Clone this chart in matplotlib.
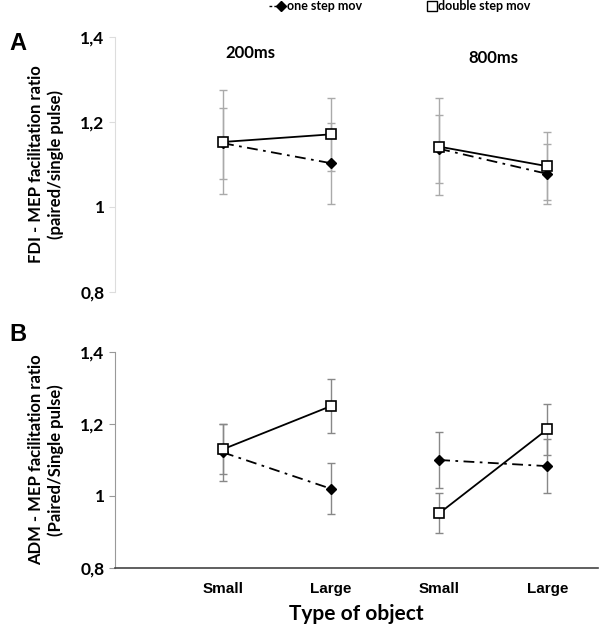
import numpy as np
import matplotlib
matplotlib.use("Agg")
import matplotlib.pyplot as plt

plt.rcParams['font.family'] = ['Lato', 'DejaVu Sans']

# x positions: Small/Large at 200ms, Small/Large at 800ms
xpos = [1, 2, 3, 4]
xlabels = ["Small", "Large", "Small", "Large"]
yticks = [0.8, 1.0, 1.2, 1.4]
yticklabels = ["0,8", "1", "1,2", "1,4"]

# panel A (FDI)
fdi_one = [1.150, 1.103, 1.137, 1.078]
fdi_one_err = [0.083, 0.095, 0.080, 0.070]
fdi_double = [1.153, 1.171, 1.142, 1.096]
fdi_double_err = [0.122, 0.086, 0.114, 0.080]

# panel B (ADM)
adm_one = [1.121, 1.020, 1.100, 1.083]
adm_one_err = [0.080, 0.071, 0.078, 0.075]
adm_double = [1.130, 1.250, 0.952, 1.185]
adm_double_err = [0.070, 0.075, 0.056, 0.071]


def draw(ax, one, one_err, dbl, dbl_err, ecol):
    for k in (0, 2):
        sl = slice(k, k + 2)
        ax.errorbar(xpos[sl], dbl[sl], yerr=dbl_err[sl], fmt='none', ecolor=ecol,
                    elinewidth=1, capsize=3, zorder=1)
        ax.errorbar(xpos[sl], one[sl], yerr=one_err[sl], fmt='none', ecolor=ecol,
                    elinewidth=1, capsize=3, zorder=1)
        ax.plot(xpos[sl], one[sl], color='black', linestyle=(0, (6, 3, 1.5, 3)),
                lw=1.3, marker='D', ms=5.5, mfc='black', mec='black', zorder=3)
        ax.plot(xpos[sl], dbl[sl], color='black', linestyle='-', lw=1.3,
                marker='s', ms=7.5, mfc='white', mec='black', mew=1.2, zorder=4)
    ax.set_ylim(0.8, 1.4)
    ax.set_xlim(0, 4.47)
    ax.set_yticks(yticks)
    ax.set_yticklabels(yticklabels, fontsize=12.5, fontweight='bold')
    for s in ('top', 'right'):
        ax.spines[s].set_visible(False)


fig = plt.figure(figsize=(6, 6.25), dpi=100)
axA = fig.add_axes([0.1917, 0.5328, 0.805, 0.408])
axB = fig.add_axes([0.1917, 0.0912, 0.805, 0.3456])

draw(axA, fdi_one, fdi_one_err, fdi_double, fdi_double_err, '#aaaaaa')
draw(axB, adm_one, adm_one_err, adm_double, adm_double_err, '#888888')

axA.spines['bottom'].set_visible(False)
axA.spines['left'].set_color('#dddddd')
axA.tick_params(axis='y', colors='#dddddd', labelcolor='black', length=4)
axA.set_xticks([])

axB.spines['left'].set_color('#999999')
axB.spines['bottom'].set_color('#444444')
axB.spines['bottom'].set_linewidth(1.2)
axB.tick_params(axis='y', colors='#999999', labelcolor='black', length=4)
axB.set_xticks(xpos)
axB.set_xticklabels(xlabels, fontsize=11, fontweight='bold', family='Liberation Sans')
axB.tick_params(axis='x', length=0, pad=10)
axB.set_xlabel("Type of object", fontsize=15, fontweight='bold', labelpad=6)

axA.set_ylabel("FDI - MEP facilitation ratio\n(paired/single pulse)",
               fontsize=12, fontweight='bold', labelpad=12)
axB.set_ylabel("ADM - MEP facilitation ratio\n(Paired/Single pulse)",
               fontsize=12, fontweight='bold', labelpad=12)

axA.text(1.25, 1.363, "200ms", fontsize=12, fontweight='bold', ha='center', va='center')
axA.text(3.5, 1.35, "800ms", fontsize=12, fontweight='bold', ha='center', va='center')

fig.text(0.015, 0.92, "A", fontsize=17, fontweight='bold', family='Liberation Sans')
fig.text(0.015, 0.455, "B", fontsize=17, fontweight='bold', family='Liberation Sans')

# legend at top
fig.lines.append(plt.Line2D([0.448, 0.462], [0.99, 0.99], transform=fig.transFigure,
                            color='black', lw=1, linestyle=(0, (2, 1.5))))
fig.lines.append(plt.Line2D([0.468], [0.99], transform=fig.transFigure, marker='D',
                            ms=5, color='black'))
fig.text(0.478, 0.99, "one step mov", fontsize=9, fontweight='bold', va='center')
fig.lines.append(plt.Line2D([0.72], [0.99], transform=fig.transFigure, marker='s',
                            ms=6.5, mfc='white', mec='black', color='black'))
fig.text(0.73, 0.99, "double step mov", fontsize=9, fontweight='bold', va='center')

fig.savefig("out.png", dpi=100)
